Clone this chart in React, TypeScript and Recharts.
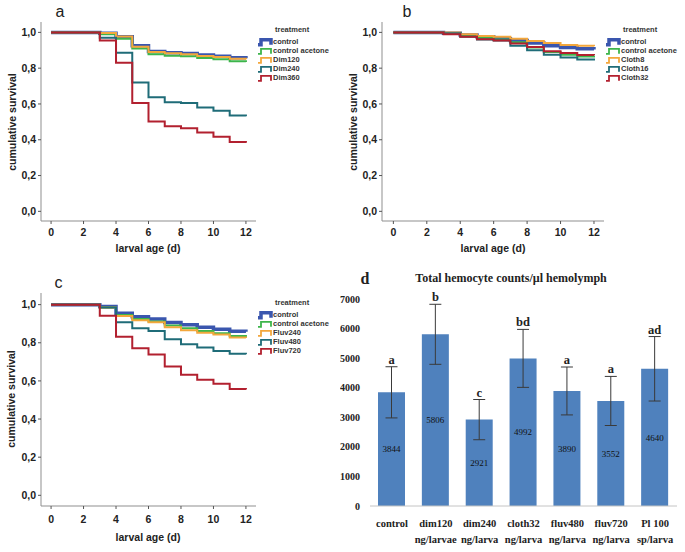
import React from "react"
import { LineChart, Line, XAxis, YAxis, BarChart, Bar, ErrorBar, LabelList } from "recharts"

const SANS = "'Liberation Sans', Arial, sans-serif"
const SERIF = "'Liberation Serif', 'Times New Roman', serif"
const FRAME = "#8f8f8f"

const days = [0, 1, 2, 3, 4, 5, 6, 7, 8, 9, 10, 11, 12]
const xTicks = [0, 2, 4, 6, 8, 10, 12]
const yTicks = [0, 0.2, 0.4, 0.6, 0.8, 1.0]

const seriesColors = ["#3A56AE", "#3DB54B", "#F3A73C", "#1F6C78", "#B2202F"]
const seriesWidths = [3.5, 2, 2, 2, 2]

// a: dimethoate
const dimNames = ["control", "control acetone", "Dim120", "Dim240", "Dim360"]
const dimControl = [1, 1, 1, 0.995, 0.975, 0.925, 0.893, 0.886, 0.882, 0.873, 0.866, 0.858, 0.856]
const dimAcetone = [1, 1, 1, 0.99, 0.965, 0.91, 0.878, 0.87, 0.866, 0.857, 0.85, 0.838, 0.835]
const dim120 = [1, 1, 1, 0.997, 0.977, 0.92, 0.89, 0.883, 0.878, 0.868, 0.862, 0.852, 0.85]
const dim240 = [1, 1, 1, 0.97, 0.886, 0.72, 0.637, 0.61, 0.606, 0.58, 0.562, 0.536, 0.532]
const dim360 = [1, 1, 1, 0.955, 0.83, 0.605, 0.502, 0.475, 0.464, 0.44, 0.417, 0.388, 0.383]

// b: clothianidin
const clothNames = ["control", "control acetone", "Cloth8", "Cloth16", "Cloth32"]
const clothControl = [1, 1, 1, 0.995, 0.985, 0.975, 0.965, 0.955, 0.94, 0.925, 0.915, 0.908, 0.905]
const clothAcetone = [1, 1, 1, 0.995, 0.98, 0.97, 0.96, 0.945, 0.915, 0.89, 0.875, 0.865, 0.86]
const cloth8 = [1, 1, 1, 1, 0.99, 0.98, 0.975, 0.965, 0.952, 0.94, 0.93, 0.925, 0.922]
const cloth16 = [1, 1, 1, 0.995, 0.975, 0.96, 0.955, 0.925, 0.9, 0.875, 0.86, 0.848, 0.843]
const cloth32 = [1, 1, 1, 0.99, 0.975, 0.962, 0.955, 0.938, 0.918, 0.895, 0.885, 0.873, 0.872]

// c: fluvalinate
const fluvNames = ["control", "control acetone", "Fluv240", "Fluv480", "Fluv720"]
const fluvControl = [1, 1, 1, 0.99, 0.955, 0.937, 0.925, 0.906, 0.894, 0.881, 0.871, 0.86, 0.858]
const fluvAcetone = [1, 1, 1, 0.985, 0.945, 0.925, 0.912, 0.89, 0.876, 0.862, 0.85, 0.835, 0.83]
const fluv240 = [1, 1, 1, 0.985, 0.94, 0.918, 0.907, 0.882, 0.866, 0.853, 0.843, 0.828, 0.825]
const fluv480 = [1, 1, 1, 0.985, 0.908, 0.876, 0.862, 0.818, 0.792, 0.775, 0.757, 0.742, 0.74]
const fluv720 = [1, 1, 1, 0.942, 0.832, 0.771, 0.738, 0.675, 0.632, 0.606, 0.585, 0.558, 0.555]

// d: hemocyte counts
const hemoLine1 = ["control", "dim120", "dim240", "cloth32", "fluv480", "fluv720", "Pl 100"]
const hemoLine2 = ["", "ng/larvae", "ng/larva", "ng/larva", "ng/larva", "ng/larva", "sp/larva"]
const hemoValues = [3844, 5806, 2921, 4992, 3890, 3552, 4640]
const hemoErrors = [865, 1015, 680, 980, 810, 830, 1090]
const hemoLetters = ["a", "b", "c", "bd", "a", "a", "ad"]
const hemoTicks = [0, 1000, 2000, 3000, 4000, 5000, 6000, 7000]

type Layout = {
  left: number
  top: number
  w: number
  h: number
  yAxisW: number
  mTop: number
  mRight: number
  xAxisH: number
  xTickMargin: number
  xDomain: [number, number]
  yDomain: [number, number]
}

const tickStyle = { fill: "#222", fontSize: 10.5, fontWeight: 700, fontFamily: SANS }

function SurvivalChart({ layout, series }: { layout: Layout; series: number[][] }) {
  const data = days.map((d, i) => {
    const row: Record<string, number> = { day: d }
    series.forEach((s, k) => (row["s" + k] = s[i]))
    return row
  })
  return (
    <div style={{ position: "absolute", left: layout.left, top: layout.top }}>
      <LineChart
        width={layout.w}
        height={layout.h}
        data={data}
        margin={{ top: layout.mTop, right: layout.mRight, bottom: 0, left: 0 }}
      >
        <XAxis
          dataKey="day"
          type="number"
          domain={layout.xDomain}
          ticks={xTicks}
          height={layout.xAxisH}
          tick={tickStyle}
          tickSize={3}
          tickMargin={layout.xTickMargin}
          tickLine={{ stroke: "#555" }}
          axisLine={{ stroke: FRAME }}
          allowDataOverflow
        />
        <XAxis
          xAxisId="top"
          orientation="top"
          type="number"
          domain={layout.xDomain}
          height={0}
          tick={false}
          tickLine={false}
          axisLine={{ stroke: FRAME }}
          allowDataOverflow
        />
        <YAxis
          type="number"
          domain={layout.yDomain}
          ticks={yTicks}
          width={layout.yAxisW}
          tick={tickStyle}
          tickSize={3}
          tickMargin={2}
          tickLine={{ stroke: "#555" }}
          axisLine={{ stroke: FRAME }}
          tickFormatter={(v: number) => v.toFixed(1).replace(".", ",")}
          allowDataOverflow
        />
        <YAxis
          yAxisId="right"
          orientation="right"
          type="number"
          domain={layout.yDomain}
          width={0}
          tick={false}
          tickLine={false}
          axisLine={{ stroke: FRAME }}
          allowDataOverflow
        />
        {series.map((_, k) => (
          <Line
            key={k}
            type="stepAfter"
            dataKey={"s" + k}
            stroke={seriesColors[k]}
            strokeWidth={seriesWidths[k]}
            dot={false}
            isAnimationActive={false}
          />
        ))}
      </LineChart>
    </div>
  )
}

function Legend({ iconX, titleY, names }: { iconX: number; titleY: number; names: string[] }) {
  return (
    <g fontFamily={SANS} fontWeight={700} fontSize={7.5} fill="#333">
      <text x={iconX + 17} y={titleY} dominantBaseline="central">
        treatment
      </text>
      {names.map((n, k) => {
        const cy = titleY + 12.5 + k * 9
        return (
          <g key={n}>
            <path
              d={`M${iconX},${cy + 3} H${iconX + 3} V${cy - 2} H${iconX + 13} V${cy + 3}`}
              fill="none"
              stroke={seriesColors[k]}
              strokeWidth={k === 0 ? 3.5 : 1.8}
            />
            <text x={iconX + 15} y={cy} dominantBaseline="central">
              {n}
            </text>
          </g>
        )
      })}
    </g>
  )
}

function SurvivalTitles({ yLabelX, xLabelX, xLabelY, yLabelY }: any) {
  return (
    <g fontFamily={SANS} fill="#222">
      <text
        transform={`translate(${yLabelX},${yLabelY}) rotate(-90)`}
        textAnchor="middle"
        dominantBaseline="central"
        fontSize={10.5}
        fontWeight={700}
      >
        cumulative survival
      </text>
      <text x={xLabelX} y={xLabelY} textAnchor="middle" dominantBaseline="central" fontSize={10.5} fontWeight={700}>
        larval age (d)
      </text>
    </g>
  )
}

const hemoData = hemoLine1.map((c, i) => ({
  cat: c,
  value: hemoValues[i],
  err: hemoErrors[i],
  letter: hemoLetters[i],
}))

function CatTick(props: any) {
  const { x, y, index } = props
  return (
    <text x={x} textAnchor="middle" fontFamily={SERIF} fontWeight={700} fontSize={10.5} fill="#222">
      <tspan x={x} y={y + 21}>
        {hemoLine1[index]}
      </tspan>
      <tspan x={x} y={y + 37}>
        {hemoLine2[index]}
      </tspan>
    </text>
  )
}

function renderLetter(props: any) {
  const { x, y, width, height, index, value } = props
  const perUnit = Number(height) / hemoValues[index]
  const top = Number(y) - hemoErrors[index] * perUnit
  return (
    <text
      x={Number(x) + Number(width) / 2}
      y={top - 3}
      textAnchor="middle"
      fontFamily={SERIF}
      fontWeight={700}
      fontSize={12.5}
      fill="#222"
    >
      {value}
    </text>
  )
}

function HemocyteChart() {
  return (
    <div style={{ position: "absolute", left: 340, top: 270 }}>
      <BarChart width={345} height={282} data={hemoData} margin={{ top: 29, right: 8, bottom: 0, left: 0 }} barSize={27}>
        <XAxis
          dataKey="cat"
          height={46}
          interval={0}
          tickLine={false}
          tickSize={0}
          tickMargin={0}
          axisLine={{ stroke: "#c4c4c4" }}
          tick={<CatTick />}
        />
        <YAxis
          domain={[0, 7000]}
          ticks={hemoTicks}
          width={30}
          axisLine={false}
          tickLine={false}
          tickSize={6}
          tickMargin={4}
          tick={{ fill: "#222", fontSize: 10, fontWeight: 700, fontFamily: SERIF }}
        />
        <Bar dataKey="value" fill="#4F81BD" isAnimationActive={false}>
          <ErrorBar dataKey="err" width={6} stroke="#3a3a3a" strokeWidth={1} direction="y" isAnimationActive={false} />
          <LabelList dataKey="value" position="center" fill="#111" fontSize={9} fontFamily={SERIF} />
          <LabelList dataKey="letter" content={renderLetter} />
        </Bar>
      </BarChart>
    </div>
  )
}

const layoutA: Layout = {
  left: 0, top: 0, w: 340, h: 265, yAxisW: 41, mTop: 22, mRight: 84, xAxisH: 44, xTickMargin: 5,
  xDomain: [-0.62, 12.62], yDomain: [-0.054, 1.058],
}
const layoutB: Layout = {
  left: 340, top: 0, w: 345, h: 265, yAxisW: 42, mTop: 22, mRight: 81, xAxisH: 44, xTickMargin: 5,
  xDomain: [-0.68, 12.6], yDomain: [-0.054, 1.058],
}
const layoutC: Layout = {
  left: 0, top: 270, w: 340, h: 282, yAxisW: 41, mTop: 23, mRight: 84, xAxisH: 46, xTickMargin: 7,
  xDomain: [-0.62, 12.62], yDomain: [-0.056, 1.061],
}

export default function App() {
  return (
    <div style={{ position: "absolute", left: 0, top: 0, width: 685, height: 552, background: "#fff" }}>
      <SurvivalChart layout={layoutA} series={[dimControl, dimAcetone, dim120, dim240, dim360]} />
      <SurvivalChart layout={layoutB} series={[clothControl, clothAcetone, cloth8, cloth16, cloth32]} />
      <SurvivalChart layout={layoutC} series={[fluvControl, fluvAcetone, fluv240, fluv480, fluv720]} />
      <HemocyteChart />
      <svg width={685} height={552} style={{ position: "absolute", left: 0, top: 0, pointerEvents: "none" }}>
        <g fontFamily={SANS} fontSize={16} fill="#222" textAnchor="middle">
          <text x={60} y={17}>a</text>
          <text x={407} y={17}>b</text>
          <text x={58.5} y={288}>c</text>
        </g>
        <SurvivalTitles yLabelX={12} yLabelY={122} xLabelX={148} xLabelY={248} />
        <SurvivalTitles yLabelX={353} yLabelY={122} xLabelX={493} xLabelY={248} />
        <SurvivalTitles yLabelX={11} yLabelY={399} xLabelX={148} xLabelY={537} />
        <Legend iconX={258} titleY={29.3} names={dimNames} />
        <Legend iconX={606} titleY={29.3} names={clothNames} />
        <Legend iconX={258} titleY={302.3} names={fluvNames} />
        <g fontFamily={SERIF} fontWeight={700} fill="#222">
          <text x={365} y={284} fontSize={16} textAnchor="middle">d</text>
          <text x={511} y={282} fontSize={12} textAnchor="middle">Total hemocyte counts/µl hemolymph</text>
        </g>
      </svg>
    </div>
  )
}
